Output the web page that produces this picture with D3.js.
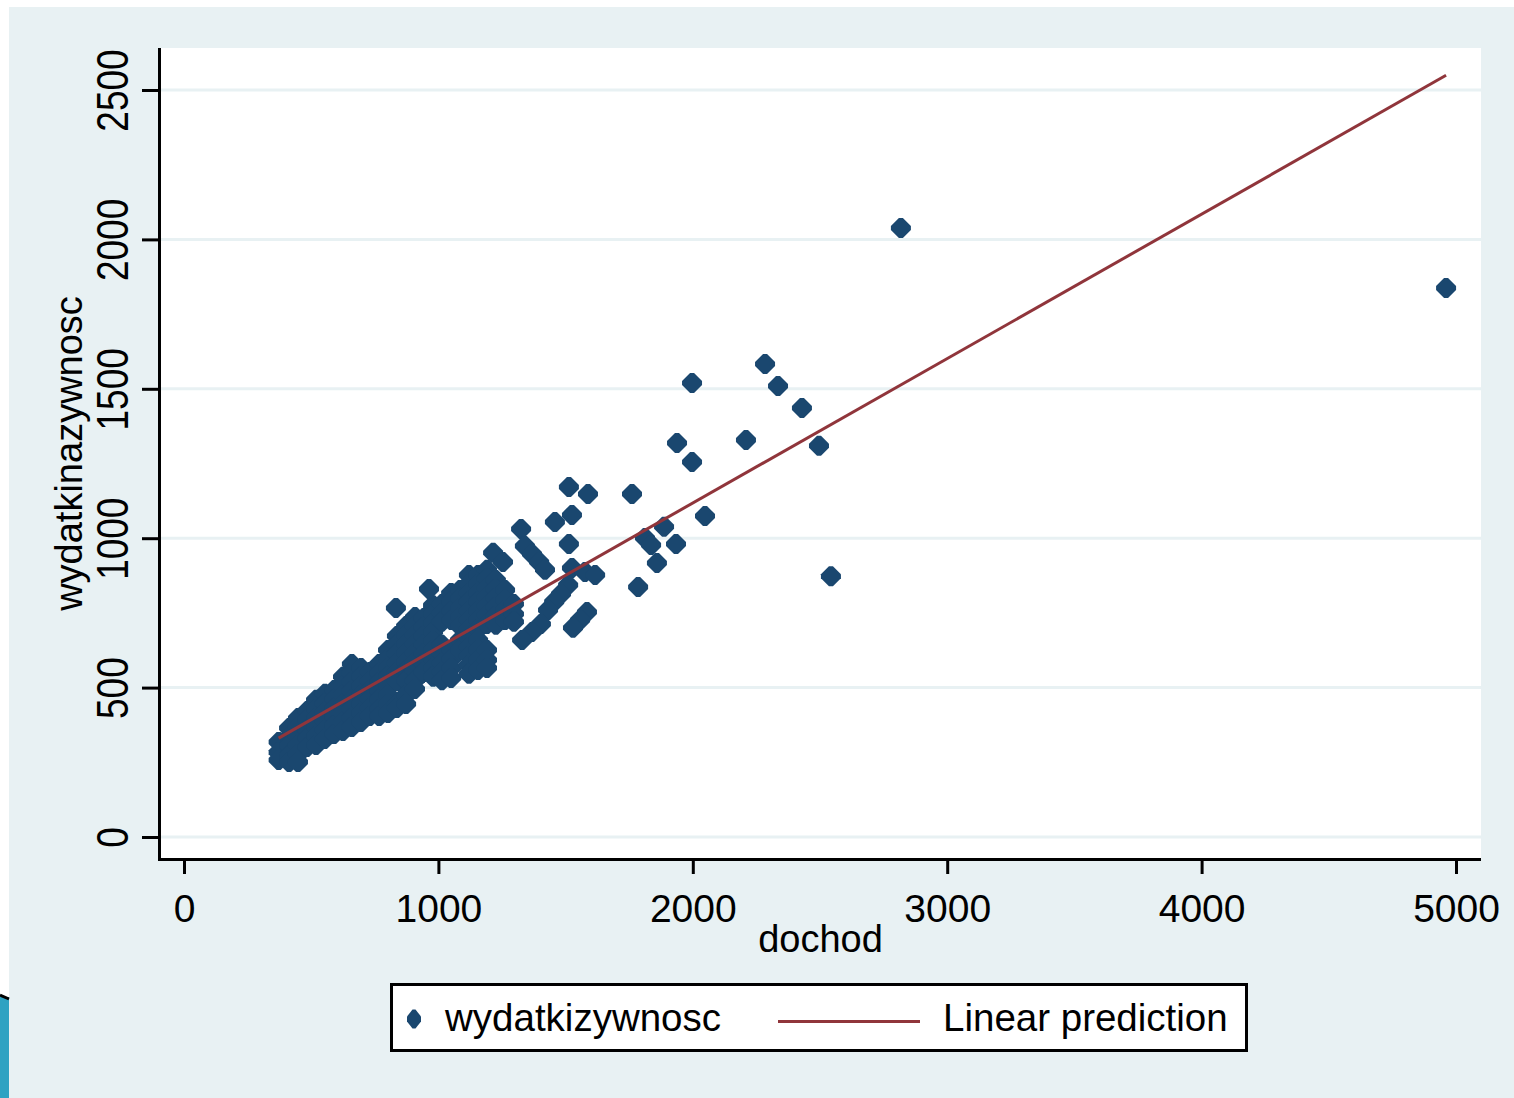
<!DOCTYPE html>
<html>
<head>
<meta charset="utf-8">
<script src="https://cdn.jsdelivr.net/npm/d3@7"></script>
<style>
body { margin: 0; background: #fff; }
text { font-family: "Liberation Sans", Arial, sans-serif; fill: #000; }
</style>
</head>
<body>
<svg class="chart" width="1514" height="1098"></svg>
<script>
var xTicks = [0, 1000, 2000, 3000, 4000, 5000];
var yTicks = [0, 500, 1000, 1500, 2000, 2500];
var xTitle = "dochod";
var yTitle = "wydatkinazywnosc";
var legendLabels = ["wydatkizywnosc", "Linear prediction"];

// fitted line
var fitIntercept = 151, fitSlope = 0.4834;

// [dochod, wydatki] - the dense cloud
var cluster = [
  [372,318],[372,284],[372,258],
  [413,365],[413,335],[413,305],[413,274],[413,251],
  [448,398],[448,368],[448,338],[448,308],[448,278],[448,251],
  [484,422],[484,392],[484,361],[484,331],[484,301],
  [519,459],[519,428],[519,398],[519,368],[519,338],[519,308],
  [554,479],[554,448],[554,418],[554,388],[554,358],[554,328],
  [590,492],[590,462],[590,432],[590,402],[590,372],[590,345],
  [625,536],[625,505],[625,475],[625,445],[625,415],[625,385],[625,355],
  [660,579],[660,549],[660,519],[660,489],[660,459],[660,428],[660,398],[660,368],
  [696,566],[696,536],[696,505],[696,475],[696,445],[696,415],[696,385],
  [731,552],[731,522],[731,492],[731,462],[731,432],[731,405],
  [767,579],[767,549],[767,519],[767,489],[767,459],[767,428],[767,405],
  [802,626],[802,596],[802,566],[802,536],[802,505],[802,475],[802,445],[802,415],
  [837,673],[837,643],[837,613],[837,582],[837,552],[837,522],[837,445],[837,432],
  [873,706],[873,676],[873,646],[873,616],[873,586],[873,556],[873,525],[873,475],[873,445],
  [908,736],[908,706],[908,676],[908,646],[908,616],[908,586],[908,556],[908,525],[908,495],
  [943,733],[943,703],[943,673],[943,643],[943,613],[943,582],[943,552],
  [979,776],[979,746],[979,716],[979,686],[979,656],[979,626],[979,596],[979,566],[979,536],
  [1014,780],[1014,750],[1014,720],[1014,643],[1014,613],[1014,582],[1014,552],[1014,525],
  [1050,817],[1050,787],[1050,756],[1050,726],[1050,626],[1050,596],[1050,566],[1050,532],
  [1085,827],[1085,797],[1085,766],[1085,736],[1085,706],[1085,659],[1085,626],
  [1120,877],[1120,847],[1120,817],[1120,787],[1120,756],[1120,726],[1120,696],[1120,666],[1120,636],[1120,606],[1120,576],[1120,546],
  [1156,877],[1156,847],[1156,817],[1156,787],[1156,756],[1156,726],[1156,696],[1156,659],[1156,626],[1156,592],[1156,559],
  [1191,894],[1191,864],[1191,833],[1191,803],[1191,773],[1191,743],[1191,713],[1191,626],[1191,592],[1191,566],
  [1226,860],[1226,830],[1226,800],[1226,770],[1226,740],[1226,710],
  [1262,827],[1262,793],[1262,760],[1262,726],
  [1297,780],[1297,746],[1297,720]
];

// [dochod, wydatki] - the more spread out points
var spread = [
  [833,766],[963,830],[1215,951],[1254,920],
  [1325,1031],[1458,1054],[1525,1078],[1513,981],[1513,1171],[1588,1148],
  [1340,974],[1368,947],[1396,920],[1419,894],
  [1525,900],[1576,887],[1616,877],
  [1510,843],[1482,813],[1455,787],[1431,760],
  [1584,753],[1557,726],[1529,700],
  [1403,713],[1368,686],[1329,659],
  [1761,1148],[1997,1255],[1997,1519],[2048,1074],[1887,1038],[1812,1001],[1836,977],
  [1934,981],[1859,917],[1785,837],
  [2284,1583],[2335,1509],[2429,1436],[2209,1329],[1938,1319],[2496,1309],
  [2818,2038],[4961,1837],[2543,873]
];

var svg = d3.select(".chart"),
    plot = {left: 160, top: 48, right: 1481, bottom: 859};

var x = d3.scaleLinear().domain([0, 5000]).range([184, 1456]);
var y = d3.scaleLinear().domain([0, 2500]).range([837, 90]);

var navy = "#1a476f", maroon = "#90353b", bg = "#e8f1f3";

// page background
svg.append("rect").attr("x", 9).attr("y", 7).attr("width", 1505).attr("height", 1091).attr("fill", bg);
svg.append("rect").attr("x", 0).attr("y", 997).attr("width", 9).attr("height", 101).attr("fill", "#2ea2c2");
svg.append("line").attr("x1", 0).attr("x2", 9).attr("y1", 995).attr("y2", 999).attr("stroke", "#000").attr("stroke-width", 3);

// plot region
svg.append("rect")
    .attr("x", plot.left).attr("y", plot.top)
    .attr("width", plot.right - plot.left).attr("height", plot.bottom - plot.top)
    .attr("fill", "#fff");

svg.append("g").selectAll("line")
  .data(yTicks)
  .enter().append("line")
    .attr("x1", plot.left).attr("x2", plot.right)
    .attr("y1", function(d) { return y(d); })
    .attr("y2", function(d) { return y(d); })
    .attr("stroke", bg)
    .attr("stroke-width", 3);

// axes
var yAxis = svg.append("g")
    .attr("transform", "translate(158,0)")
    .call(d3.axisLeft(y).tickValues(yTicks).tickFormat(d3.format("d")).tickSize(16).tickSizeOuter(0));
yAxis.select(".domain").remove();
yAxis.selectAll(".tick line").attr("stroke", "#000").attr("stroke-width", 3);
yAxis.selectAll(".tick text")
    .attr("x", null).attr("dy", null)
    .attr("text-anchor", "middle")
    .attr("font-size", 37)
    .attr("font-family", "Liberation Sans, Arial, sans-serif")
    .attr("transform", "translate(-30,0) scale(1.2,1) rotate(-90)");

var xAxis = svg.append("g")
    .attr("transform", "translate(0,861)")
    .call(d3.axisBottom(x).tickValues(xTicks).tickFormat(d3.format("d")).tickSize(13).tickSizeOuter(0));
xAxis.select(".domain").remove();
xAxis.selectAll(".tick line").attr("stroke", "#000").attr("stroke-width", 3);
xAxis.selectAll(".tick text")
    .attr("y", 61).attr("dy", null)
    .attr("font-size", 39)
    .attr("font-family", "Liberation Sans, Arial, sans-serif");

svg.append("line").attr("x1", 159.5).attr("x2", 159.5).attr("y1", plot.top).attr("y2", 861)
    .attr("stroke", "#000").attr("stroke-width", 3);
svg.append("line").attr("x1", 158).attr("x2", plot.right).attr("y1", 859.5).attr("y2", 859.5)
    .attr("stroke", "#000").attr("stroke-width", 3);

svg.append("text")
    .attr("x", (plot.left + plot.right) / 2).attr("y", 952)
    .attr("text-anchor", "middle").attr("font-size", 38)
    .text(xTitle);

svg.append("text")
    .attr("transform", "translate(82," + (plot.top + plot.bottom) / 2 + ") rotate(-90)")
    .attr("text-anchor", "middle").attr("font-size", 38)
    .text(yTitle);

// markers (Stata-style blunt diamond)
var diamond = "M-2,-10L2,-10L10,-2L10,2L2,10L-2,10L-10,2L-10,-2Z";

svg.append("g").selectAll("path")
  .data(cluster.concat(spread))
  .enter().append("path")
    .attr("d", diamond)
    .attr("transform", function(d) { return "translate(" + x(d[0]) + "," + y(d[1]) + ")"; })
    .attr("fill", navy);

// linear prediction
var xr = d3.extent(cluster.concat(spread), function(d) { return d[0]; });
var line = d3.line()
    .x(function(d) { return x(d); })
    .y(function(d) { return y(fitIntercept + fitSlope * d); });

svg.append("path")
    .datum(xr)
    .attr("fill", "none")
    .attr("stroke", maroon)
    .attr("stroke-width", 3)
    .attr("d", line);

// legend
var lg = svg.append("g");
lg.append("rect")
    .attr("x", 391.5).attr("y", 984.5).attr("width", 855).attr("height", 66)
    .attr("fill", "#fff").attr("stroke", "#000").attr("stroke-width", 3);
lg.append("path")
    .attr("d", "M-1.5,-9.5L1.5,-9.5L7,-2.5L7,2.5L1.5,9.5L-1.5,9.5L-7,2.5L-7,-2.5Z")
    .attr("transform", "translate(414,1019)")
    .attr("fill", navy);
lg.append("line")
    .attr("x1", 778).attr("x2", 920).attr("y1", 1021.5).attr("y2", 1021.5)
    .attr("stroke", maroon).attr("stroke-width", 3);
lg.selectAll("text.lab")
  .data(legendLabels)
  .enter().append("text")
    .attr("class", "lab")
    .attr("x", function(d, i) { return i == 0 ? 445 : 943; })
    .attr("y", 1031)
    .attr("font-size", 38.5)
    .text(function(d) { return d; });
</script>
</body>
</html>
